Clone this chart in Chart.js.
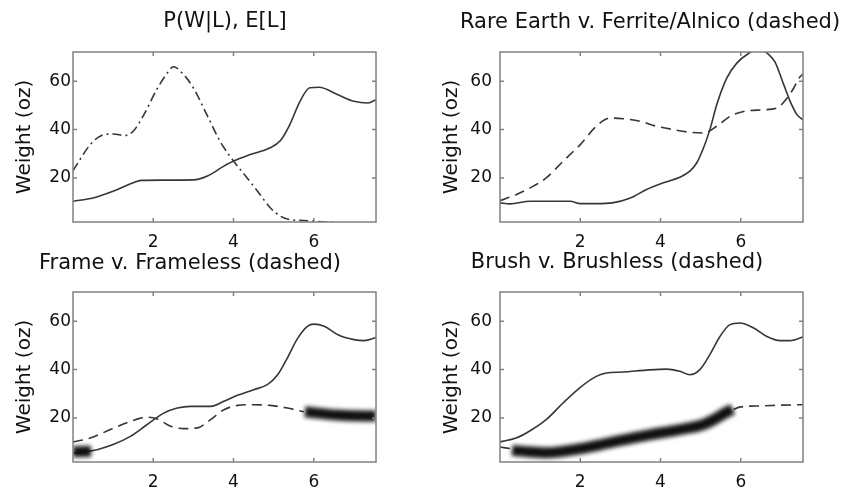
<!DOCTYPE html>
<html lang="en">
<head>
<meta charset="UTF-8">
<title>Motor weight comparisons</title>
<script src="https://cdn.jsdelivr.net/npm/chart.js"></script>
<style>
  body { margin: 0; background: #fff; }
  canvas { position: absolute; left: 0; top: 0; }
</style>
</head>
<body>
<canvas id="c1" width="845" height="494"></canvas>
<canvas id="c2" width="845" height="494"></canvas>
<canvas id="c3" width="845" height="494"></canvas>
<canvas id="c4" width="845" height="494"></canvas>
<script>
const xTicks = [2, 4, 6];
const yTicks = [20, 40, 60];

// P(W|L), E[L]
const tlSolidX = [0, 0.5, 1.0, 1.5, 1.7, 2.2, 3.0, 3.35, 3.75, 4.0, 4.4, 4.9, 5.17, 5.4, 5.65, 5.9, 6.13, 6.6, 7.0, 7.35, 7.55];
const tlSolidY = [10.4, 11.7, 14.5, 18, 19, 19.1, 19.2, 20.8, 24.8, 27, 29.6, 32.4, 35.5, 42, 51.5, 57.3, 57.5, 54.4, 51.7, 51, 52.4];
const tlDashX = [0, 0.43, 0.7, 1.0, 1.3, 1.5, 1.76, 2.1, 2.35, 2.5, 2.76, 3.0, 3.34, 3.67, 4.0, 4.34, 4.6, 4.92, 5.17, 5.4, 5.75, 6.25, 6.5];
const tlDashY = [23, 33.8, 37.5, 38.2, 37.6, 39.3, 46, 57, 63.4, 66, 62.7, 57.2, 46, 35, 27, 20, 14.5, 7.6, 4.2, 2.8, 2.4, 1.8, 1.6];

// Rare Earth v. Ferrite/Alnico
const trSolidX = [0, 0.25, 0.75, 1.25, 1.75, 2.0, 2.4, 2.8, 3.25, 3.65, 4.07, 4.48, 4.73, 4.9, 5.07, 5.23, 5.4, 5.65, 5.9, 6.2, 6.45, 6.7, 6.85, 7.07, 7.23, 7.4, 7.55];
const trSolidY = [9.7, 9.3, 10.4, 10.4, 10.4, 9.4, 9.4, 9.7, 11.7, 15.2, 18, 20.3, 22.8, 26.2, 32.4, 40, 50.3, 61.3, 67.5, 71.6, 73.5, 71, 68, 58.6, 51.7, 46.2, 44];
const trDashX = [0, 0.4, 0.75, 1.15, 1.57, 2.0, 2.4, 2.75, 3.07, 3.5, 3.9, 4.32, 4.73, 5.07, 5.4, 5.73, 6.07, 6.57, 6.9, 7.15, 7.32, 7.45, 7.55];
const trDashY = [10.6, 13.1, 15.9, 20, 26.9, 33.8, 41.4, 44.8, 44.5, 43.4, 41.4, 40, 38.9, 38.6, 41.4, 45.5, 47.5, 48.2, 48.9, 53, 57.2, 61.3, 63];

// Frame v. Frameless
const blSolidX = [0, 0.3, 0.6, 1.0, 1.43, 1.84, 2.26, 2.6, 2.93, 3.43, 3.76, 4.1, 4.5, 4.84, 5.1, 5.34, 5.6, 5.84, 6.0, 6.26, 6.6, 7.0, 7.26, 7.55];
const blSolidY = [5.5, 6, 6.9, 9, 12.4, 17.2, 22, 24.1, 24.8, 24.8, 26.9, 29.4, 31.7, 33.8, 37.9, 44.8, 53, 57.9, 58.8, 57.9, 54.4, 52.4, 52, 53.3];
const blDashX = [0, 0.43, 0.93, 1.43, 1.84, 2.1, 2.43, 2.76, 3.1, 3.43, 3.76, 4.1, 4.5, 4.92, 5.34, 5.75];
const blDashY = [10.1, 11.7, 15.2, 18.6, 20.3, 19.6, 16.6, 15.6, 15.9, 19.3, 23.4, 25.2, 25.5, 25.2, 24.1, 22.6];
const blBlobAX = [0, 0.45];
const blBlobAY = [6, 6.2];
const blBlobBX = [5.78, 6.2, 6.6, 7.0, 7.55];
const blBlobBY = [22.6, 21.8, 21.2, 20.9, 20.8];

// Brush v. Brushless
const brSolidX = [0, 0.4, 0.73, 1.15, 1.57, 1.98, 2.4, 2.65, 3.07, 3.65, 4.15, 4.48, 4.73, 4.98, 5.23, 5.48, 5.73, 5.98, 6.32, 6.65, 6.98, 7.23, 7.55];
const brSolidY = [10.1, 11.7, 14.5, 19.3, 26.2, 32.4, 37.2, 38.6, 39, 39.8, 40.2, 39.3, 37.9, 40, 46.2, 53.7, 58.6, 59.3, 57.2, 53.7, 52, 52, 53.5];
const brDashX = [0, 0.4, 1.15, 2.0, 2.8, 3.65, 4.48, 5.07, 5.4, 5.73, 6.0, 6.5, 7.0, 7.55];
const brDashY = [8, 7, 6, 7.4, 10, 12.8, 15.2, 17.2, 20, 22.8, 24.6, 25, 25.3, 25.5];
const brBlobX = [0.3, 0.7, 1.15, 2.0, 2.8, 3.65, 4.48, 5.07, 5.4, 5.6, 5.8];
const brBlobY = [6.6, 6, 5.6, 7.3, 10, 12.8, 15.2, 17.3, 20, 22, 23.6];

const ink = '#363636';
const textColor = '#111';
const family = '"DejaVu Sans", Arial, sans-serif';

const pts = (xs, ys) => xs.map((x, i) => ({ x: x, y: ys[i] }));

const solid = (xs, ys) => ({ data: pts(xs, ys) });
const dashed = (xs, ys) => ({ data: pts(xs, ys), dash: [10, 6] });
const blob = (xs, ys) => ({ data: pts(xs, ys), width: 11, color: '#111', blur: 2 });

const panels = [
    { id: 'c1', title: 'P(W|L), E[L]', area: [73, 52, 376, 222], titleX: 225, titleY: 22, labelPad: 2,
      series: [solid(tlSolidX, tlSolidY), { data: pts(tlDashX, tlDashY), dash: [9, 4, 2, 4] }] },
    { id: 'c2', title: 'Rare Earth v. Ferrite/Alnico (dashed)', area: [500, 52, 803, 222], titleX: 650, titleY: 23, labelPad: 8,
      series: [solid(trSolidX, trSolidY), dashed(trDashX, trDashY)] },
    { id: 'c3', title: 'Frame v. Frameless (dashed)', area: [73, 292, 376, 462], titleX: 190, titleY: 264, labelPad: 2,
      series: [solid(blSolidX, blSolidY), dashed(blDashX, blDashY), blob(blBlobAX, blBlobAY), blob(blBlobBX, blBlobBY)] },
    { id: 'c4', title: 'Brush v. Brushless (dashed)', area: [500, 292, 803, 462], titleX: 617, titleY: 263, labelPad: 8,
      series: [solid(brSolidX, brSolidY), dashed(brDashX, brDashY), blob(brBlobX, brBlobY)] }
];

// box round the plot with small inward tick marks
const frameTicks = {
    id: 'frameTicks',
    afterDatasetsDraw(chart) {
        const { ctx, chartArea: a, scales } = chart;
        ctx.save();
        ctx.strokeStyle = '#808080';
        ctx.lineWidth = 1.5;
        ctx.strokeRect(a.left, a.top, a.right - a.left, a.bottom - a.top);
        ctx.beginPath();
        xTicks.forEach(v => {
            const px = scales.x.getPixelForValue(v);
            ctx.moveTo(px, a.bottom); ctx.lineTo(px, a.bottom - 4);
            ctx.moveTo(px, a.top); ctx.lineTo(px, a.top + 4);
        });
        yTicks.forEach(v => {
            const py = scales.y.getPixelForValue(v);
            ctx.moveTo(a.left, py); ctx.lineTo(a.left + 4, py);
            ctx.moveTo(a.right, py); ctx.lineTo(a.right - 4, py);
        });
        ctx.stroke();
        ctx.restore();
    }
};

const panelTitle = {
    id: 'panelTitle',
    afterDraw(chart, args, opts) {
        const ctx = chart.ctx;
        ctx.save();
        ctx.font = '21px ' + family;
        ctx.fillStyle = textColor;
        ctx.textAlign = 'center';
        ctx.textBaseline = 'middle';
        ctx.fillText(opts.text, opts.x, opts.y);
        ctx.restore();
    }
};

// the marker bands are soft at the edges
const blurLines = {
    id: 'blurLines',
    beforeDatasetDraw(chart, args) {
        const ds = chart.data.datasets[args.index];
        chart.ctx.save();
        if (ds.blur) chart.ctx.filter = 'blur(' + ds.blur + 'px)';
    },
    afterDatasetDraw(chart) {
        chart.ctx.restore();
    }
};

panels.forEach(p => {
    const [L, T, R, B] = p.area;
    new Chart(document.getElementById(p.id), {
        type: 'line',
        data: {
            datasets: p.series.map(s => ({
                data: s.data,
                borderColor: s.color || ink,
                borderWidth: s.width || 1.6,
                borderDash: s.dash || [],
                blur: s.blur || 0,
                order: s.blur ? 0 : 1,   // bands go on top of the lines
                pointRadius: 0,
                cubicInterpolationMode: 'monotone',
                fill: false,
                clip: 0
            }))
        },
        options: {
            responsive: false,
            animation: false,
            events: [],
            layout: { padding: { left: L - 60, top: T, right: 845 - R, bottom: 494 - B - 30 } },
            scales: {
                x: {
                    type: 'linear', min: 0, max: 7.55,
                    afterFit: s => { s.height = 30; },
                    afterBuildTicks: s => { s.ticks = xTicks.map(v => ({ value: v })); },
                    grid: { display: false, drawTicks: false },
                    border: { display: false },
                    ticks: { padding: 10, color: textColor, font: { family: family, size: 17 } }
                },
                y: {
                    type: 'linear', min: 1.8, max: 72.1,
                    afterFit: s => { s.width = 60; },
                    afterBuildTicks: s => { s.ticks = yTicks.map(v => ({ value: v })); },
                    grid: { display: false, drawTicks: false },
                    border: { display: false },
                    ticks: { padding: p.labelPad, color: textColor, font: { family: family, size: 17 } },
                    title: { display: true, text: 'Weight (oz)', color: textColor, padding: 0, font: { family: family, size: 20 } }
                }
            },
            plugins: {
                legend: { display: false },
                tooltip: { enabled: false },
                panelTitle: { text: p.title, x: p.titleX, y: p.titleY }
            }
        },
        plugins: [blurLines, frameTicks, panelTitle]
    });
});
</script>
</body>
</html>
